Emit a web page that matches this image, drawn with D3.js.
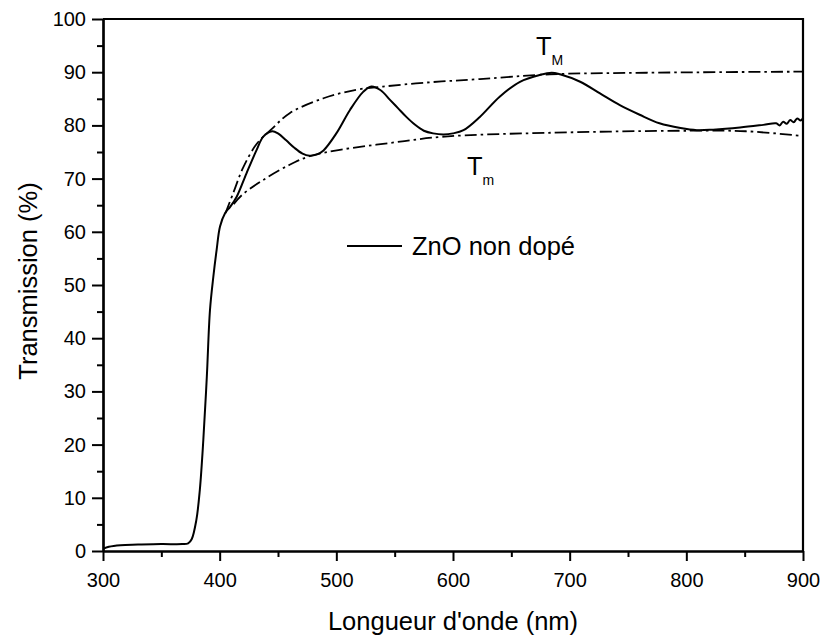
<!DOCTYPE html>
<html>
<head>
<meta charset="utf-8">
<script src="https://cdn.jsdelivr.net/npm/d3@7"></script>
<style>
  body { margin: 0; background: #fff; }
  svg text { font-family: "Liberation Sans", Arial, sans-serif; fill: #000; }
</style>
</head>
<body>
<div id="chart"></div>
<script>
// Transmission spectrum of undoped ZnO, with the two envelopes T_M and T_m

// measured curve: [wavelength (nm), transmission (%)]
const spectrum = [
  [300, 0.4], [305, 0.8], [315, 1.1], [330, 1.2], [350, 1.3], [368, 1.3],
  [373, 1.45], [376, 2.2], [380, 5.8], [383, 11.5], [386, 20.9], [389, 32.8],
  [391.7, 45.3], [394.6, 51.6], [397.4, 56.6], [400.3, 61], [404.6, 63.5],
  [409, 64.7], [414.6, 66.6], [423, 71], [431.7, 75.4], [437.4, 77.9],
  [445, 78.9], [450, 78.5], [457, 77.2], [464, 75.8], [471, 74.7],
  [477, 74.3], [483, 74.5], [489, 75.3], [500, 78.5], [511.7, 82.9],
  [523, 86.3], [530, 87.3], [538, 86.6], [546, 84.8], [553, 83.2],
  [560, 81.6], [567, 80.2], [575, 79.0], [583, 78.5], [592, 78.3],
  [600, 78.5], [609, 79.1], [623, 81.6], [640, 85.4], [657.4, 88.2],
  [674.6, 89.5], [684.6, 89.9], [691.7, 89.6], [709, 88.2], [726, 86.0],
  [743, 83.8], [760, 82.0], [777, 80.4], [795, 79.5], [809, 79.1],
  [823, 79.2], [846, 79.6], [866, 80.1],
  [877, 80.4], [880, 80.0], [883, 80.7], [886, 80.3], [889, 81.0],
  [892, 80.6], [895, 81.3], [898, 80.9], [900, 81.4]
];

// upper envelope T_M
const envMax = [
  [405, 63.5], [412, 67.5], [420, 72], [432, 76.6], [445, 79.4], [460, 82.3],
  [489, 85.1], [517, 86.7], [540, 87.3], [580, 88.1], [623, 88.7],
  [683, 89.6], [766, 89.9], [900, 90.1]
];

// lower envelope T_m
const envMin = [
  [412, 65.2], [419, 66.9], [437, 69.7], [460, 72.6], [477, 74.2],
  [503, 75.4], [546, 76.7], [593, 77.9], [680, 78.6], [803, 79.0],
  [851, 78.9], [900, 78.0]
];

const xTicks = [300, 400, 500, 600, 700, 800, 900];
const xMinor = [350, 450, 550, 650, 750, 850];
const yTicks = [0, 10, 20, 30, 40, 50, 60, 70, 80, 90, 100];
const yMinor = [5, 15, 25, 35, 45, 55, 65, 75, 85, 95];

const W = 823, H = 640;
const plot = { left: 103, right: 803, top: 19, bottom: 551 };

const svg = d3.select('#chart').append('svg')
  .attr('width', W)
  .attr('height', H);

const x = d3.scaleLinear().domain([300, 900]).range([plot.left, plot.right]);
const y = d3.scaleLinear().domain([0, 100]).range([plot.bottom, plot.top]);

// clip so the curves stay inside the frame
svg.append('clipPath').attr('id', 'clip')
  .append('rect')
  .attr('x', plot.left).attr('y', plot.top)
  .attr('width', plot.right - plot.left)
  .attr('height', plot.bottom - plot.top);

const line = d3.line()
  .x(d => x(d[0]))
  .y(d => y(d[1]))
  .curve(d3.curveCatmullRom.alpha(0.5));

const curves = svg.append('g').attr('clip-path', 'url(#clip)');

curves.append('path')
  .datum(envMax)
  .attr('d', line)
  .attr('fill', 'none')
  .attr('stroke', '#000')
  .attr('stroke-width', 1.8)
  .attr('stroke-dasharray', '12,4,2.5,4');

curves.append('path')
  .datum(envMin)
  .attr('d', line)
  .attr('fill', 'none')
  .attr('stroke', '#000')
  .attr('stroke-width', 1.8)
  .attr('stroke-dasharray', '12,4,2.5,4');

curves.append('path')
  .datum(spectrum)
  .attr('d', line)
  .attr('fill', 'none')
  .attr('stroke', '#000')
  .attr('stroke-width', 2);

// axes
function styleAxis(g) {
  g.select('.domain').attr('stroke-width', 2.2);
  g.selectAll('.tick line').attr('stroke-width', 2);
  g.selectAll('.tick text').style('font-size', '20px');
}

svg.append('g')
  .attr('transform', `translate(0,${plot.bottom})`)
  .call(d3.axisBottom(x).tickValues(xMinor).tickSize(6).tickFormat('').tickSizeOuter(0))
  .call(styleAxis);

svg.append('g')
  .attr('transform', `translate(0,${plot.bottom})`)
  .call(d3.axisBottom(x).tickValues(xTicks).tickSize(10).tickPadding(12).tickSizeOuter(0))
  .call(styleAxis);

svg.append('g')
  .attr('transform', `translate(${plot.left},0)`)
  .call(d3.axisLeft(y).tickValues(yMinor).tickSize(6).tickFormat('').tickSizeOuter(0))
  .call(styleAxis);

svg.append('g')
  .attr('transform', `translate(${plot.left},0)`)
  .call(d3.axisLeft(y).tickValues(yTicks).tickSize(11).tickPadding(6).tickSizeOuter(0))
  .call(styleAxis);

// top and right frame
svg.append('path')
  .attr('d', `M${plot.left},${plot.top}H${plot.right}V${plot.bottom}`)
  .attr('fill', 'none')
  .attr('stroke', '#000')
  .attr('stroke-width', 2.2);

// axis titles
svg.append('text')
  .attr('x', (plot.left + plot.right) / 2)
  .attr('y', 630)
  .attr('text-anchor', 'middle')
  .style('font-size', '25.5px')
  .text("Longueur d'onde (nm)");

svg.append('text')
  .attr('transform', `translate(37,${(plot.top + plot.bottom) / 2 - 4}) rotate(-90)`)
  .attr('text-anchor', 'middle')
  .style('font-size', '25.5px')
  .text('Transmission (%)');

// legend
svg.append('line')
  .attr('x1', 347).attr('x2', 402)
  .attr('y1', 246).attr('y2', 246)
  .attr('stroke', '#000')
  .attr('stroke-width', 2);

svg.append('text')
  .attr('x', 412)
  .attr('y', 255)
  .style('font-size', '25.5px')
  .text('ZnO non dopé');

// envelope labels
const tM = svg.append('text').attr('x', 536).attr('y', 55).style('font-size', '25.5px');
tM.append('tspan').text('T');
tM.append('tspan').attr('dy', 10).style('font-size', '14px').text('M');

const tm = svg.append('text').attr('x', 467).attr('y', 175).style('font-size', '25.5px');
tm.append('tspan').text('T');
tm.append('tspan').attr('dy', 10).style('font-size', '14px').text('m');
</script>
</body>
</html>
